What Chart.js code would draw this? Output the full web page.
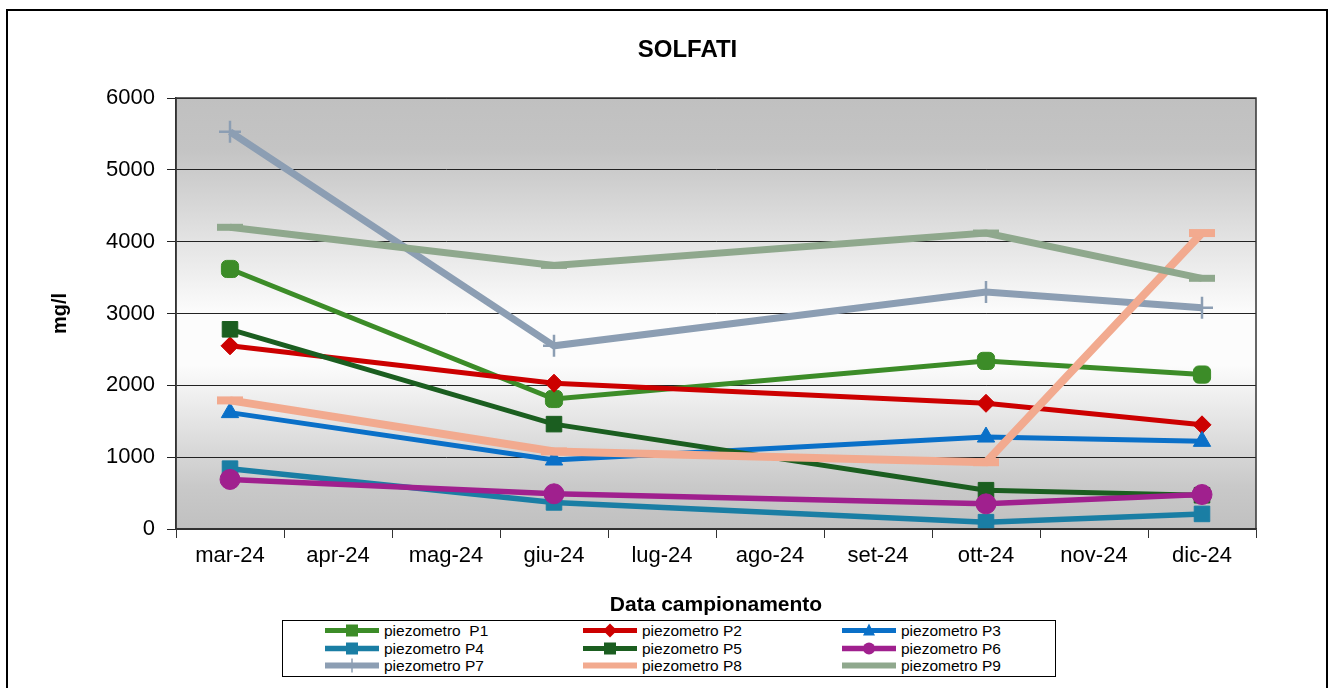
<!DOCTYPE html>
<html>
<head>
<meta charset="utf-8">
<script src="https://cdn.jsdelivr.net/npm/chart.js@4.4.1/dist/chart.umd.min.js"></script>
<style>
  html, body { margin:0; padding:0; background:#fff; }
  #wrap { position:relative; width:1337px; height:688px; overflow:hidden; }
  #frame { position:absolute; left:6px; top:9px; width:1322px; height:700px; border:2px solid #000; box-sizing:border-box; }
  #c { position:absolute; left:0; top:0; }
  #legend { position:absolute; left:282px; top:620px; width:774px; height:57px; border:1.5px solid #000; box-sizing:border-box; background:#fff; }
  .item { position:absolute; height:17px; display:flex; align-items:center; font-family:"Liberation Sans",Arial,sans-serif; font-size:15.5px; color:#000; white-space:pre; }
  .item canvas { margin-right:3px; }
</style>
</head>
<body>
<div id="wrap">
  <div id="frame"></div>
  <canvas id="c" width="1337" height="688"></canvas>
  <div id="legend"></div>
</div>
<script>
const categories = ['mar-24','apr-24','mag-24','giu-24','lug-24','ago-24','set-24','ott-24','nov-24','dic-24'];
const seriesNames = ['piezometro  P1','piezometro P2','piezometro P3','piezometro P4','piezometro P5','piezometro P6','piezometro P7','piezometro P8','piezometro P9'];
const P1 = [3620, null, null, 1810, null, null, null, 2340, null, 2150];
const P2 = [2550, null, null, 2030, null, null, null, 1750, null, 1450];
const P3 = [1620, null, null,  960, null, null, null, 1280, null, 1220];
const P4 = [ 840, null, null,  370, null, null, null,   95, null,  210];
const P5 = [2780, null, null, 1460, null, null, null,  540, null,  470];
const P6 = [ 690, null, null,  490, null, null, null,  350, null,  480];
const P7 = [5530, null, null, 2550, null, null, null, 3300, null, 3080];
const P8 = [1790, null, null, 1080, null, null, null,  930, null, 4120];
const P9 = [4200, null, null, 3670, null, null, null, 4120, null, 3490];
const yTicks = [0, 1000, 2000, 3000, 4000, 5000, 6000];

const seriesData = [P1,P2,P3,P4,P5,P6,P7,P8,P9];
const styles = [
  {color:'#3c8c28', width:5, point:'rectRounded', r:10, pw:1},
  {color:'#cc0000', width:5, point:'rectRot', r:9, pw:1},
  {color:'#0a70c8', width:5, point:'triangle', r:10, pw:1},
  {color:'#1a7ea4', width:5.5, point:'rect', r:11, pw:1},
  {color:'#1b5e20', width:5, point:'rect', r:11, pw:1},
  {color:'#a0208e', width:5.5, point:'circle', r:10, pw:1},
  {color:'#8c9eb3', width:7, point:'cross', r:11, pw:2.5},
  {color:'#f2aa8f', width:8, point:'line', r:13, pw:8},
  {color:'#8fa88d', width:7, point:'line', r:13, pw:7}
];

const datasets = seriesData.map((d, i) => ({
  label: seriesNames[i],
  data: d,
  spanGaps: true,
  borderColor: styles[i].color,
  backgroundColor: styles[i].color,
  borderWidth: styles[i].width,
  pointStyle: styles[i].point,
  pointRadius: styles[i].r,
  pointBorderWidth: styles[i].pw,
  pointBackgroundColor: styles[i].color,
  pointBorderColor: styles[i].color,
  tension: 0,
  order: -i
}));

const bgPlugin = {
  id: 'bg',
  afterLayout(chart) {
    const tb = chart.titleBlock;
    if (tb) { tb.left += 37; tb.right += 37; }
  },
  beforeDraw(chart) {
    const {ctx, chartArea: a} = chart;
    const g = ctx.createLinearGradient(0, a.top, 0, a.bottom);
    g.addColorStop(0, '#c0c0c0');
    g.addColorStop(0.12, '#c4c4c4');
    g.addColorStop(0.5, '#fcfcfc');
    g.addColorStop(0.62, '#fcfcfc');
    g.addColorStop(0.9, '#c9c9c9');
    g.addColorStop(1, '#c0c0c0');
    ctx.save();
    ctx.fillStyle = g;
    ctx.fillRect(a.left, a.top, a.right - a.left, a.bottom - a.top);
    ctx.restore();
  },
  afterDatasetsDraw(chart) {
    const {ctx, chartArea: a} = chart;
    ctx.save();
    ctx.strokeStyle = '#333';
    ctx.lineWidth = 1.5;
    ctx.strokeRect(a.left, a.top, a.right - a.left, a.bottom - a.top);
    ctx.restore();
  }
};

new Chart(document.getElementById('c'), {
  type: 'line',
  data: { labels: categories, datasets },
  plugins: [bgPlugin],
  options: {
    responsive: false,
    animation: false,
    layout: { padding: { left: 45, right: 81, top: 0, bottom: 68 } },
    plugins: {
      legend: { display: false },
      tooltip: { enabled: false },
      title: {
        display: true, text: 'SOLFATI', color: '#000',
        font: { family: '"Liberation Sans", Arial, sans-serif', size: 24, weight: 'bold', lineHeight: 1.2 },
        padding: { top: 35.6, bottom: 33.6 }
      }
    },
    scales: {
      x: {
        offset: true,
        grid: { display: true, drawOnChartArea: false, offset: true, tickLength: 9, color: '#333', lineWidth: 1 },
        border: { display: true, color: '#333', width: 1.5 },
        ticks: { color: '#000', padding: 5, maxRotation: 0, autoSkip: false,
          font: { family: '"Liberation Sans", Arial, sans-serif', size: 22 } },
        title: { display: true, text: 'Data campionamento', color: '#000',
          font: { family: '"Liberation Sans", Arial, sans-serif', size: 21, weight: 'bold', lineHeight: 1.2 },
          padding: { top: 0, bottom: 2 } },
        afterFit(s) { s.height = 91; }
      },
      y: {
        min: 0, max: 6000,
        afterBuildTicks(s) { s.ticks = yTicks.map(v => ({ value: v })); },
        grid: { color: '#222', lineWidth: 1, tickLength: 9 },
        border: { display: true, color: '#333', width: 1.5 },
        ticks: { color: '#000', padding: 12, callback: v => String(v),
          font: { family: '"Liberation Sans", Arial, sans-serif', size: 22 } },
        title: { display: true, text: 'mg/l', color: '#000',
          font: { family: '"Liberation Sans", Arial, sans-serif', size: 20, weight: 'bold', lineHeight: 1.2 },
          padding: { top: 3, bottom: 0 } },
        afterFit(s) { s.width = 131; }
      }
    }
  }
});

// HTML legend with swatches drawn like the series
const legend = document.getElementById('legend');
const colX = [40, 298, 557];
const rowY = [1, 19, 36];
seriesNames.forEach((name, i) => {
  const st = styles[i];
  const item = document.createElement('div');
  item.className = 'item';
  item.style.left = colX[i % 3] + 'px';
  item.style.top = rowY[Math.floor(i / 3)] + 'px';
  const cv = document.createElement('canvas');
  cv.width = 58; cv.height = 17;
  const ctx = cv.getContext('2d');
  ctx.strokeStyle = st.color; ctx.fillStyle = st.color;
  ctx.lineWidth = Math.min(st.width, 6);
  ctx.beginPath(); ctx.moveTo(2, 8.5); ctx.lineTo(56, 8.5); ctx.stroke();
  const cx = 29, cy = 8.5, r = 6;
  ctx.lineWidth = 1;
  if (st.point === 'rectRounded' || st.point === 'rect') { ctx.fillRect(cx - r, cy - r, 2*r, 2*r); }
  else if (st.point === 'rectRot') { ctx.beginPath(); ctx.moveTo(cx, cy - r - 1); ctx.lineTo(cx + r + 1, cy); ctx.lineTo(cx, cy + r + 1); ctx.lineTo(cx - r - 1, cy); ctx.closePath(); ctx.fill(); }
  else if (st.point === 'triangle') { ctx.beginPath(); ctx.moveTo(cx, cy - r - 1); ctx.lineTo(cx + r, cy + r - 1); ctx.lineTo(cx - r, cy + r - 1); ctx.closePath(); ctx.fill(); }
  else if (st.point === 'circle') { ctx.beginPath(); ctx.arc(cx, cy, r, 0, Math.PI*2); ctx.fill(); }
  else if (st.point === 'cross') { ctx.lineWidth = 1.5; ctx.beginPath(); ctx.moveTo(cx, cy - 7); ctx.lineTo(cx, cy + 7); ctx.stroke(); }
  item.appendChild(cv);
  const t = document.createElement('span');
  t.textContent = name;
  item.appendChild(t);
  legend.appendChild(item);
});
</script>
</body>
</html>
